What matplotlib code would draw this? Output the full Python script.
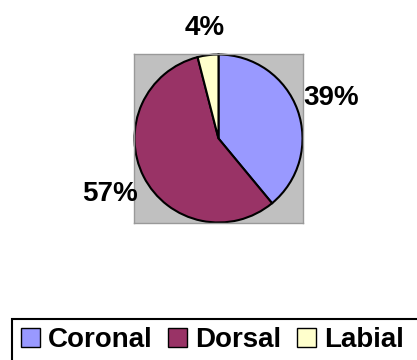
import numpy as np
import matplotlib.pyplot as plt
from matplotlib.patches import Patch, Rectangle

plt.rcParams['font.family'] = ['Liberation Sans', 'DejaVu Sans']

# share of each place of articulation
places = ['Coronal', 'Dorsal', 'Labial']
shares = [39, 57, 4]
colors = ['#9999FF', '#993366', '#FFFFCC']
label_dist = [1.42, 1.45, 1.33]

fig = plt.figure(figsize=(4.17, 3.6), dpi=100)

# gray plot area behind the pie
ax = fig.add_axes([134 / 417, 1 - 223 / 360, 169 / 417, 169 / 360])
wedges, texts = ax.pie(shares, colors=colors, startangle=90, counterclock=False,
                       labels=[f'{v}%' for v in shares], frame=True,
                       wedgeprops=dict(edgecolor='black', linewidth=1.5),
                       textprops=dict(fontsize=20, fontweight='bold', clip_on=False))
for w, t, d in zip(wedges, texts, label_dist):
    ang = np.deg2rad((w.theta1 + w.theta2) / 2)
    t.set_position((d * np.cos(ang), d * np.sin(ang)))
    t.set_ha('center')
    t.set_va('center')
ax.set_facecolor('#C0C0C0')
for s in ax.spines.values():
    s.set_color('#999999')
    s.set_linewidth(1)
ax.set_xlim(-1.006, 1.006)
ax.set_ylim(-1.006, 1.006)
ax.set_aspect('auto')
ax.set_xticks([])
ax.set_yticks([])

# legend box running off the bottom right corner
fig.patches.append(Rectangle((12 / 417, -0.2), 1.0, 0.2 + (360 - 319) / 360,
                             transform=fig.transFigure, fill=False,
                             edgecolor='black', linewidth=1.5))
handles = [Patch(facecolor=c, edgecolor='black', linewidth=1) for c in colors]
fig.legend(handles, places, loc='center left', bbox_to_anchor=(21 / 417, 1 - 340 / 360),
           ncol=3, frameon=False, borderpad=0, borderaxespad=0,
           prop=dict(size=20, weight='bold'),
           handlelength=0.68, handleheight=0.68, handletextpad=0.3, columnspacing=0.55)

fig.savefig('out.png')
